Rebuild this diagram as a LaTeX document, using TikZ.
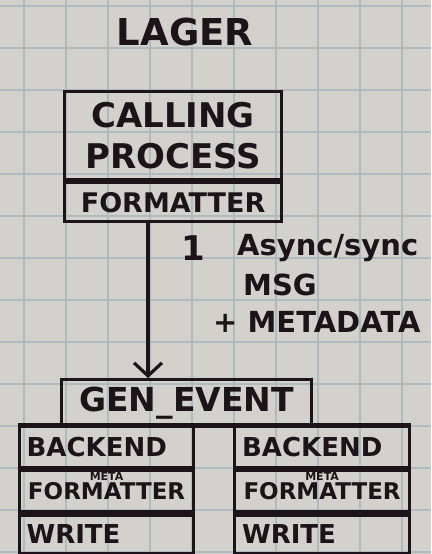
\documentclass[tikz,border=0pt]{standalone}
\usepackage{fontspec}
\setmainfont{DejaVu Sans}
\usetikzlibrary{arrows.meta}

\definecolor{paper}{HTML}{D2D1CC}
\definecolor{gridblue}{HTML}{AEBABE}
\definecolor{ink}{HTML}{1C1418}

\tikzset{
  box/.style={draw=ink, line width=3.2pt, inner sep=0pt, text=ink, align=center},
  row/.style={box, text width=160pt, align=left},
  gridline/.style={draw=gridblue, line width=1.8pt},
  hand/.style={text=ink, inner sep=0pt}
}

\newcommand{\fsize}[1]{\fontsize{#1}{#1}\selectfont\bfseries}

\begin{document}
\begin{tikzpicture}[x=1pt, y=-1pt]

\useasboundingbox (0,0) rectangle (431,554);

% Papier quadrillé
\fill[paper] (0,0) rectangle (431,554);
\foreach \gx in {24,66,...,402}
  \draw[gridline] (\gx,0) -- (\gx,554);
\foreach \gy in {6,48,...,552}
  \draw[gridline] (0,\gy) -- (431,\gy);

% Titre
\node[hand, font=\fsize{37}] (title) at (185,32) {LAGER};

% Processus appelant
\node[box, anchor=north west, minimum width=217pt, minimum height=88pt,
      font=\fontsize{34}{41}\selectfont\bfseries] (caller) at (63,90) {CALLING\\PROCESS};
\node[box, anchor=north west, minimum width=217pt, minimum height=39pt,
      font=\fsize{27}] (fmt) at (caller.south west) {FORMATTER};

% Gen_event
\node[box, anchor=north west, minimum width=250pt, minimum height=47pt,
      font=\fsize{33}] (genev) at (60,378) {GEN\_EVENT};

% Flèche du message
\coordinate (tap) at (148,0);
\draw[draw=ink, line width=3.2pt, -{Straight Barb[length=13pt, width=28pt]}]
  (fmt.south -| tap) -- (genev.north -| tap);
\node[hand, font=\fsize{34}] (one) at (193,248) {1};
\node[hand, anchor=west, font=\fsize{29}] (kind) at (237,248) {Async/sync};
\node[hand, anchor=west, font=\fsize{29}] (msg) at (243,285) {MSG};
\node[hand, anchor=west, font=\fsize{29}] (meta) at (213,322) {+ METADATA};

% Backend gauche
\node[row, anchor=north west, minimum width=174pt, minimum height=41pt,
      font=\fsize{26}] (lback) at (18,425) {BACKEND};
\node[box, anchor=north west, minimum width=174pt, minimum height=41pt,
      font=\fsize{23},
      label={[hand, anchor=north, yshift=-3pt, font=\fsize{11}]north:META}]
      (lmeta) at (lback.south west) {FORMATTER};
\node[row, anchor=north west, minimum width=174pt, minimum height=39pt,
      font=\fsize{26}] (lwrite) at (lmeta.south west) {WRITE};

% Backend droit
\node[row, anchor=north west, minimum width=175pt, minimum height=41pt,
      font=\fsize{26}] (rback) at (233,425) {BACKEND};
\node[box, anchor=north west, minimum width=175pt, minimum height=41pt,
      font=\fsize{23},
      label={[hand, anchor=north, yshift=-3pt, font=\fsize{11}]north:META}]
      (rmeta) at (rback.south west) {FORMATTER};
\node[row, anchor=north west, minimum width=175pt, minimum height=39pt,
      font=\fsize{26}] (rwrite) at (rmeta.south west) {WRITE};

% Barre vers les backends
\draw[draw=ink, line width=3.2pt] (lback.north west) -- (rback.north east);

\end{tikzpicture}
\end{document}
